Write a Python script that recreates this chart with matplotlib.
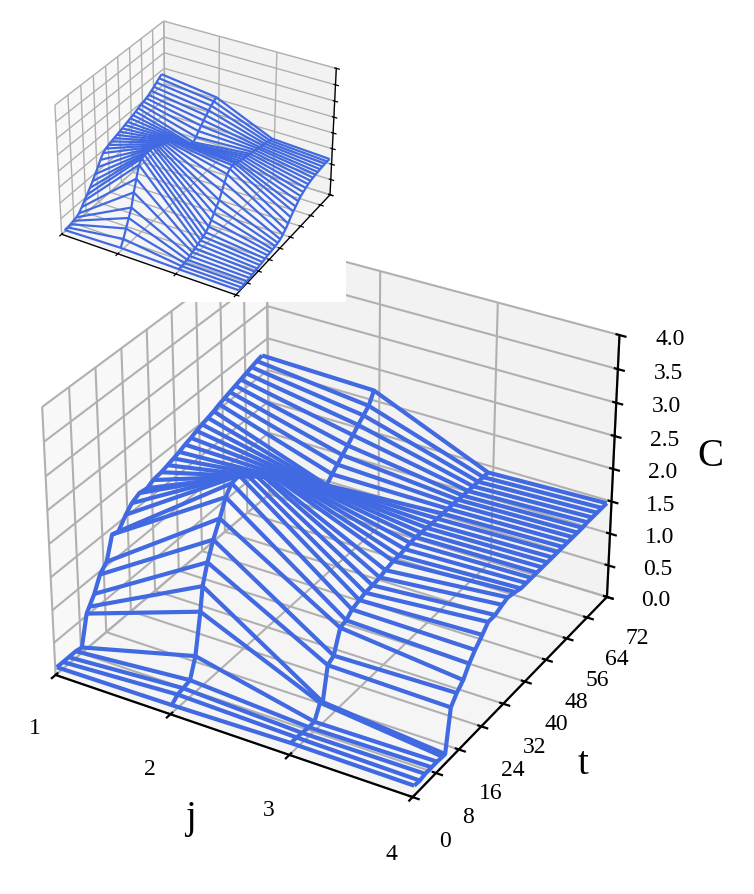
import numpy as np
import matplotlib
matplotlib.use('Agg')
import matplotlib.pyplot as plt

plt.rcParams['font.family'] = ['Liberation Serif', 'DejaVu Serif']

W, H = 754, 894
LINE = 'royalblue'

j_values = [1, 2, 3, 4]
x_ticks = [1, 2, 3, 4]
y_ticks = [0, 8, 16, 24, 32, 40, 48, 56, 64, 72]
z_ticks = [0, 0.5, 1, 1.5, 2, 2.5, 3, 3.5, 4]

# main panel
t_main = [0.5, 2.4, 4.2, 6.4, 8.3, 10.2, 11.1, 12.8, 14.8, 17, 19, 21, 23.5, 25.5, 28, 30.5, 32.5, 35.2,
          37.3, 39.3, 41.2, 43.2, 45.2, 47.1, 49, 51, 53, 54.9, 56.8, 58.6, 60.5, 62.4, 64.3, 66.2, 68.1, 70]
c_main_j1 = [.1, .1, .1, .1, .08, .53, .6, .73, .95, 1.06, 1.4, 1.37, 1.53, 1.63, 1.69, 1.67, 1.72,
             1.74, 1.77, 1.8, 1.83, 1.87, 1.9, 1.94, 1.97, 2.0, 2.03, 2.07, 2.1, 2.13, 2.16, 2.19, 2.22, 2.25, 2.28, 2.3]
c_main_j2 = [.12, .2, .22, .25, .54, 1.14, 1.49, 1.78, 2.04, 2.27, 2.51, 2.64, 2.66, 2.62, 2.53, 2.42, 2.32,
             2.19, 2.09, 2.0, 1.91, 1.83, 1.75, 1.66, 1.58, 1.49, 1.4, 1.5, 1.58, 1.66, 1.74, 1.83, 1.92, 2.0, 2.08, 2.25]
c_main_j3 = [.16, .16, .15, .14, .14, .35, .32, .81, .87, 1.2, 1.23, 1.31, 1.35, 1.38, 1.39, 1.41, 1.44,
             1.47, 1.47, 1.49, 1.51, 1.52, 1.51, 1.51, 1.5, 1.5, 1.5, 1.5, 1.5, 1.5, 1.49, 1.49, 1.49, 1.49, 1.49, 1.49]
c_main_j4 = [.15, .14, .16, .16, .16, .15, .15, .78, .91, 1.01, 1.17, 1.29, 1.41, 1.52, 1.52, 1.57, 1.6,
             1.57, 1.54, 1.54, 1.54, 1.54, 1.54, 1.54, 1.54, 1.54, 1.54, 1.54, 1.54, 1.54, 1.54, 1.55, 1.55, 1.55, 1.55, 1.55]

# inset panel
t_inset = [2, 3.9, 5.8, 7.7, 9.6, 11.4, 13.3, 15.2, 17.1, 19, 20.9, 22.8, 24.7, 26.5, 28.4, 30.3, 32.2, 34.1, 36,
           37.9, 39.8, 41.7, 43.5, 45.4, 47.3, 49.2, 51.1, 53, 54.9, 56.8, 58.7, 60.5, 62.4, 64.3, 66.2, 68.1, 70]
c_inset_j1 = [.05, .05, .07, .1, .13, .18, .3, .43, .55, .68, .82, .97, 1.12, 1.28, 1.42, 1.49, 1.53, 1.57, 1.6,
              1.63, 1.66, 1.69, 1.73, 1.76, 1.8, 1.83, 1.87, 1.91, 1.95, 1.98, 2.02, 2.06, 2.12, 2.18, 2.25, 2.32, 2.38]
c_inset_j2 = [.1, .3, .55, .8, 1.05, 1.45, 1.8, 2.15, 2.27, 2.3, 2.3, 2.3, 2.3, 2.25, 2.2, 2.16, 2.12, 2.08, 2.03,
              1.97, 1.9, 1.82, 1.74, 1.65, 1.56, 1.47, 1.38, 1.35, 1.45, 1.56, 1.66, 1.76, 1.85, 1.94, 2.02, 2.09, 2.15]
c_inset_j3 = [.06, .07, .08, .1, .13, .17, .21, .25, .29, .33, .38, .48, .6, .74, .87, 1.0, 1.2, 1.4, 1.58,
              1.67, 1.7, 1.69, 1.65, 1.62, 1.6, 1.58, 1.56, 1.54, 1.52, 1.5, 1.48, 1.45, 1.43, 1.41, 1.39, 1.37, 1.35]
c_inset_j4 = [.05, .05, .06, .07, .08, .1, .11, .12, .14, .15, .17, .19, .2, .21, .23, .25, .28, .35, .43,
              .53, .65, .75, .83, .92, 1.0, 1.05, 1.1, 1.14, 1.17, 1.19, 1.21, 1.22, 1.23, 1.24, 1.25, 1.25, 1.25]


def rect(x0, y0, x1, y1):
    return [x0 / W, 1 - y1 / H, (x1 - x0) / W, (y1 - y0) / H]


def panel(fig, box, t, cols, lw, grid_lw, axis_lw, tick_lw, labels, elev, azim):
    ax = fig.add_axes(rect(*box), projection='3d')
    ax.patch.set_visible(False)
    ax.view_init(elev=elev, azim=azim)
    J, T = np.meshgrid(j_values, t)
    C = np.array(cols).T
    ax.plot_wireframe(J, T, C, color=LINE, linewidth=lw, rstride=1, cstride=1)
    ax.set_xlim(1, 4)
    ax.set_ylim(0, 72)
    ax.set_zlim(0, 4)
    ax.set_xticks(x_ticks)
    ax.set_yticks(y_ticks)
    ax.set_zticks(z_ticks)
    for a in (ax.xaxis, ax.yaxis, ax.zaxis):
        a._axinfo['grid']['linewidth'] = grid_lw
        a._axinfo['tick']['linewidth'] = {True: tick_lw, False: tick_lw}
        a.line.set_linewidth(axis_lw)
    if labels:
        ax.set_xticklabels(['1', '2', '3', '4'])
        ax.set_yticklabels([str(v) for v in y_ticks])
        ax.set_zticklabels(['0.0', '0.5', '1.0', '1.5', '2.0', '2.5', '3.0', '3.5', '4.0'])
        ax.tick_params(axis='x', labelsize=17, pad=15)
        ax.tick_params(axis='y', labelsize=17, pad=13)
        ax.tick_params(axis='z', labelsize=17, pad=14)
        ax.set_xlabel('j', fontsize=28, labelpad=22)
        ax.set_ylabel('t', fontsize=28, labelpad=25)
        ax.set_zlabel('C', fontsize=28, labelpad=22)
    else:
        ax.set_xticklabels([])
        ax.set_yticklabels([])
        ax.set_zticklabels([])
    return ax


fig = plt.figure(figsize=(W / 100, H / 100), dpi=100)
panel(fig, (7.5, 194.5, 647.5, 834.5), t_main,
      [c_main_j1, c_main_j2, c_main_j3, c_main_j4], 3.0, 1.5, 1.6, 1.6, True, 31, -59.5)
cover = fig.add_axes(rect(0, 0, 346, 302), facecolor='white')
cover.set_xticks([])
cover.set_yticks([])
for s in cover.spines.values():
    s.set_visible(False)
panel(fig, (38, 0, 350, 312), t_inset,
      [c_inset_j1, c_inset_j2, c_inset_j3, c_inset_j4], 1.6, 1.0, 0.9, 0.9, False, 32, -59.7)
fig.savefig('out.png', dpi=100)
